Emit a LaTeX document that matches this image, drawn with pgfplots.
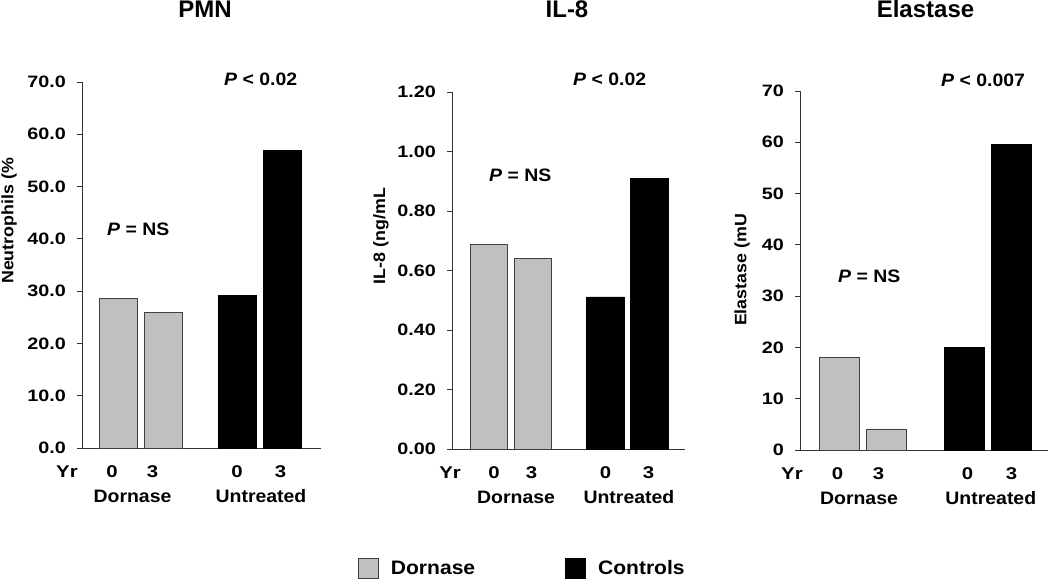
\documentclass[border=0pt]{standalone}
\usepackage{pgfplots}
\pgfplotsset{compat=1.18}
\usepackage{fontspec}
\setmainfont{Liberation Sans}[FakeStretch=1.08]
\newfontfamily\tickfont{Liberation Sans}[FakeStretch=1.2]
\newfontfamily\titlefont{Liberation Sans}
\definecolor{lgray}{HTML}{C0C0C0}
\definecolor{edge}{HTML}{404040}
\newcommand{\fs}[1]{\fontsize{#1}{#1}\selectfont}

\pgfplotsset{
 panel/.style={
  scale only axis, anchor=south west,
  axis x line*=bottom, axis y line*=left,
  axis line style={black!80, line width=0.9pt},
  ymin=0, clip=false,
  ybar, bar width=0.85, bar shift=0pt,
  tick align=outside, major tick length=5pt,
  xtick style={draw=none},
  ytick style={black!80, line width=0.9pt},
  yticklabel style={font=\tickfont\bfseries\fs{16.5}, anchor=east, inner sep=0pt, xshift=-11pt},
  xticklabel style={font=\tickfont\bfseries\fs{17}, anchor=base, inner sep=0pt, yshift=-25pt},
  /pgf/number format/assume math mode=true,
  /pgf/number format/fixed, /pgf/number format/fixed zerofill,
 },
 gbar/.style={fill=lgray, draw=edge, line width=0.9pt,
   legend image code/.code={\draw[fill=lgray, draw=edge, line width=0.9pt] (0pt,-10pt) rectangle (20pt,10pt);}},
 kbar/.style={fill=black, draw=black, line width=0.9pt,
   legend image code/.code={\draw[fill=black, draw=black, line width=0.9pt] (0pt,-10pt) rectangle (20pt,10pt);}},
}

\begin{document}
\begin{tikzpicture}
\useasboundingbox (0pt,0pt) rectangle (1050pt,580pt);

% ---------------- PMN ----------------
\begin{axis}[panel, at={(82pt,132pt)}, width=239pt, height=366pt,
  xmin=0.189, xmax=5.5, ymax=70, ytick={0,10,20,30,40,50,60,70},
  /pgf/number format/precision=1,
  xtick={0.856,1.756,3.633,4.6}, xticklabels={0,3,0,3}]
\addplot[gbar] coordinates {(1,28.6) (2,26.0)};
\addplot[kbar] coordinates {(3.65,29.1) (4.65,56.9)};
\node[anchor=base, font=\tickfont\bfseries\fs{17}] at ([yshift=-30pt]axis cs:-0.144,0) {Yr};
\node[anchor=base, font=\bfseries\fs{18}] at ([yshift=-55pt]axis cs:1.311,0) {Dornase};
\node[anchor=base, font=\bfseries\fs{18}] at ([yshift=-55pt]axis cs:4.167,0) {Untreated};
\end{axis}

% ---------------- IL-8 ----------------
\begin{axis}[panel, at={(452pt,131pt)}, width=233pt, height=357pt,
  xmin=0.159, xmax=5.454, ymax=1.2, ytick={0,0.2,0.4,0.6,0.8,1.0,1.2},
  /pgf/number format/precision=2,
  xtick={1.114,1.966,3.648,4.625}, xticklabels={0,3,0,3},
  legend columns=2,
  legend style={at={(-0.4034,-0.335)}, anchor=west, draw=none, fill=none,
    inner sep=0pt, outer sep=0pt,
    font=\bfseries\fs{19.5},
    nodes={inner sep=0pt, anchor=west},
    /tikz/every odd column/.append style={column sep=12pt},
    /tikz/every even column/.append style={column sep=90pt}}]
\addplot[gbar] coordinates {(1,0.689) (2,0.639)};
\addlegendentry{Dornase}
\addplot[kbar] coordinates {(3.65,0.511) (4.65,0.908)};
\addlegendentry{Controls}
\node[anchor=base, font=\tickfont\bfseries\fs{17}] at ([yshift=-30pt]axis cs:0.114,0) {Yr};
\node[anchor=base, font=\bfseries\fs{18}] at ([yshift=-55pt]axis cs:1.615,0) {Dornase};
\node[anchor=base, font=\bfseries\fs{18}] at ([yshift=-55pt]axis cs:4.18,0) {Untreated};
\end{axis}

% ---------------- Elastase ----------------
\begin{axis}[panel, at={(800pt,130pt)}, width=248pt, height=359pt,
  xmin=0.160, xmax=5.437, ymax=70, ytick={0,10,20,30,40,50,60,70},
  /pgf/number format/precision=0,
  xtick={0.958,1.83,3.724,4.66}, xticklabels={0,3,0,3}]
\addplot[gbar] coordinates {(1,18.1) (2,4.1)};
\addplot[kbar] coordinates {(3.65,19.9) (4.65,59.5)};
\node[anchor=base, font=\tickfont\bfseries\fs{17}] at ([yshift=-30pt]axis cs:-0.01,0) {Yr};
\node[anchor=base, font=\bfseries\fs{18}] at ([yshift=-55pt]axis cs:1.415,0) {Dornase};
\node[anchor=base, font=\bfseries\fs{18}] at ([yshift=-55pt]axis cs:4.22,0) {Untreated};
\end{axis}

% titles
\node[anchor=base, font=\titlefont\bfseries\fs{24}] at (205pt,562pt) {PMN};
\node[anchor=base, font=\titlefont\bfseries\fs{24}] at (567pt,562pt) {IL-8};
\node[anchor=base, font=\titlefont\bfseries\fs{24}] at (925.5pt,562pt) {Elastase};

% y labels
\node[rotate=90, font=\bfseries\fs{16.5}] at (9pt,359pt) {Neutrophils (\%};
\node[rotate=90, font=\bfseries\fs{16.5}] at (381pt,344pt) {IL-8 (ng/mL};
\node[rotate=90, font=\bfseries\fs{16.5}] at (742pt,310pt) {Elastase (mU};

% P annotations
\node[anchor=base west, inner sep=0pt, font=\bfseries\fs{18}] at (224pt,494pt) {\textit{P} < 0.02};
\node[anchor=base west, inner sep=0pt, font=\bfseries\fs{18}] at (107pt,344pt) {\textit{P} = NS};
\node[anchor=base west, inner sep=0pt, font=\bfseries\fs{18}] at (573pt,494pt) {\textit{P} < 0.02};
\node[anchor=base west, inner sep=0pt, font=\bfseries\fs{18}] at (489pt,398pt) {\textit{P} = NS};
\node[anchor=base west, inner sep=0pt, font=\bfseries\fs{18}] at (941pt,493pt) {\textit{P} < 0.007};
\node[anchor=base west, inner sep=0pt, font=\bfseries\fs{18}] at (838pt,297pt) {\textit{P} = NS};
\end{tikzpicture}
\end{document}
